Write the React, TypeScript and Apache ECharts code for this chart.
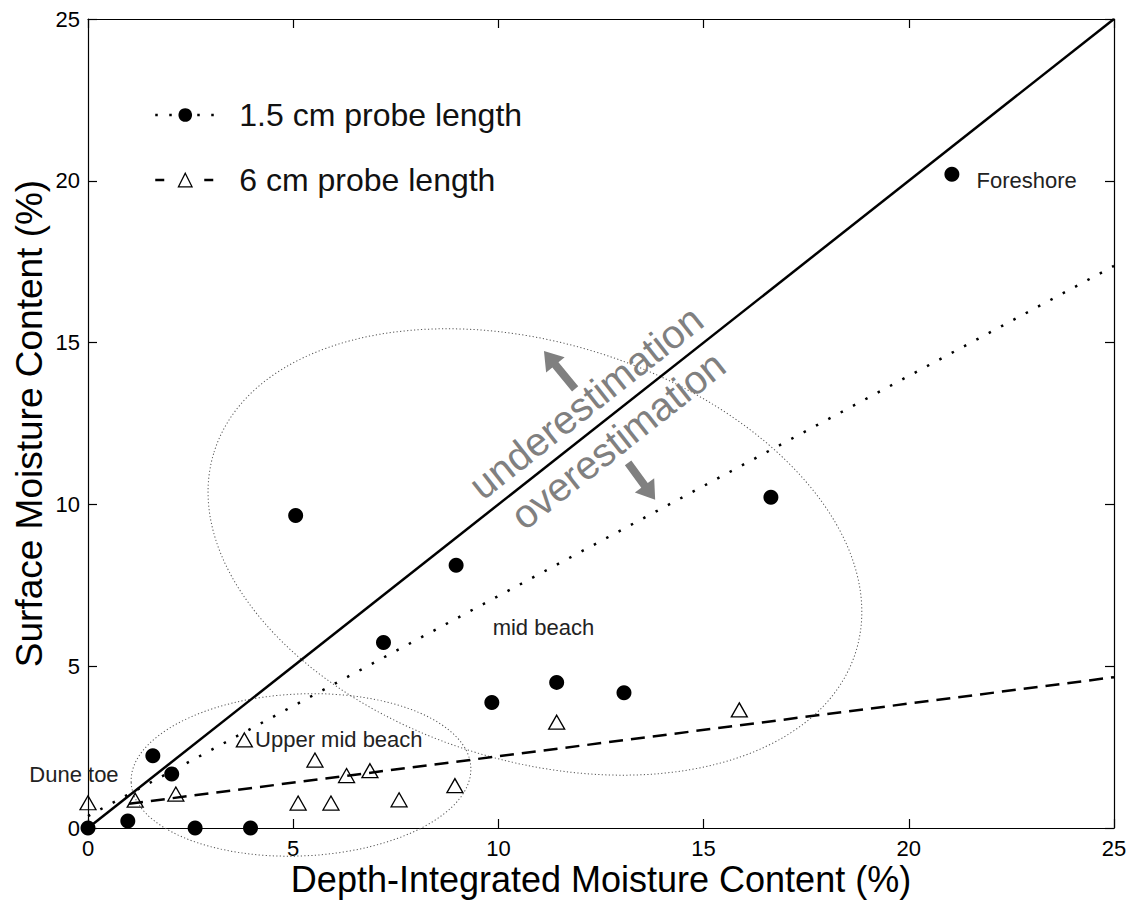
import { useEffect, useRef } from 'react';
import * as echarts from 'echarts';

const FONT = '"Liberation Sans", Arial, Helvetica, sans-serif';

// 1.5 cm probe: depth-integrated vs surface moisture content (%)
const fineProbeDepth = [0, 0.97, 1.58, 2.04, 2.61, 3.96, 5.06, 7.2, 8.97, 9.84, 11.42, 13.06, 16.64, 21.05];
const fineProbeSurface = [0, 0.22, 2.23, 1.67, 0, 0, 9.66, 5.73, 8.12, 3.88, 4.5, 4.18, 10.22, 20.2];

// 6 cm probe: depth-integrated vs surface moisture content (%)
const coarseProbeDepth = [0, 1.15, 2.14, 3.81, 5.12, 5.53, 5.92, 6.3, 6.87, 7.58, 8.94, 11.42, 15.87];
const coarseProbeSurface = [0.78, 0.86, 1.05, 2.72, 0.77, 2.1, 0.77, 1.62, 1.77, 0.87, 1.31, 3.27, 3.65];

// Regression lines (end points)
const fineFitDepth = [0, 25];
const fineFitSurface = [0.37, 17.37];
const coarseFitDepth = [1, 25];
const coarseFitSurface = [0.75, 4.66];

// 1:1 reference line
const parityDepth = [0, 25];
const paritySurface = [0, 25];

// Axis range
const axisMin = 0;
const axisMax = 25;
const axisStep = 5;

// Beach zone labels, anchored at their left edge
const zoneNames = ['Foreshore', 'mid beach', 'Upper mid beach', 'Dune toe'];
const zoneDepth = [21.65, 9.86, 4.07, -1.43];
const zoneSurface = [20.02, 6.21, 2.72, 1.64];

const seriesNames = ['1.5 cm probe length', '6 cm probe length'];

const pairs = (xs: number[], ys: number[]) => xs.map((x, i) => [x, ys[i]]);

// Dotted outlines around the beach zones (centre in data units, radii in px, tilt in degrees)
const zoneOutlines = [
  { cx: 10.89, cy: 8.53, rx: 336, ry: 209, tilt: -17.3 },
  { cx: 5.19, cy: 1.64, rx: 170, ry: 81, tilt: 2.5 },
];

// Arrows either side of the 1:1 line (tail -> tip, data units)
const arrows = [
  { tail: [11.87, 13.57], tip: [11.11, 14.74] },
  { tail: [13.16, 11.28], tip: [13.82, 10.14] },
];

const arrowPoints = (tail: number[], tip: number[]) => {
  const dx = tip[0] - tail[0];
  const dy = tip[1] - tail[1];
  const len = Math.hypot(dx, dy);
  const ux = dx / len;
  const uy = dy / len;
  const nx = -uy;
  const ny = ux;
  const headLen = 18;
  const headHalf = 12;
  const shaftHalf = 4;
  const nk = [tip[0] - ux * headLen, tip[1] - uy * headLen];
  return [
    [tail[0] + nx * shaftHalf, tail[1] + ny * shaftHalf],
    [nk[0] + nx * shaftHalf, nk[1] + ny * shaftHalf],
    [nk[0] + nx * headHalf, nk[1] + ny * headHalf],
    [tip[0], tip[1]],
    [nk[0] - nx * headHalf, nk[1] - ny * headHalf],
    [nk[0] - nx * shaftHalf, nk[1] - ny * shaftHalf],
    [tail[0] - nx * shaftHalf, tail[1] - ny * shaftHalf],
  ];
};

const makeAxis = (extra: Record<string, unknown>) => ({
  type: 'value',
  min: axisMin,
  max: axisMax,
  interval: axisStep,
  axisLine: { show: true, onZero: false, lineStyle: { color: '#000', width: 1.2 } },
  axisTick: { show: true, inside: true, length: 9, lineStyle: { color: '#000', width: 1.2 } },
  splitLine: { show: false },
  axisLabel: { show: true, color: '#000', fontSize: 22, fontFamily: FONT, margin: 9 },
  ...extra,
});

export default function App() {
  const ref = useRef<HTMLDivElement>(null);

  useEffect(() => {
    if (!ref.current) return;
    const chart = echarts.init(ref.current, null, { renderer: 'svg' });

    chart.setOption({
      animation: false,
      backgroundColor: '#fff',
      grid: {
        left: 88,
        right: 16,
        top: 19,
        bottom: 72,
        containLabel: false,
        outerBoundsMode: 'none',
      },
      xAxis: [
        makeAxis({
          position: 'bottom',
          name: 'Depth-Integrated Moisture Content (%)',
          nameLocation: 'middle',
          nameGap: 33,
          nameMoveOverlap: false,
          nameTextStyle: { fontSize: 36, fontFamily: FONT, color: '#000' },
        }),
        makeAxis({ position: 'top', axisLabel: { show: false } }),
      ],
      yAxis: [
        makeAxis({
          position: 'left',
          axisLabel: { show: true, color: '#000', fontSize: 22, fontFamily: FONT, margin: 8 },
          name: 'Surface Moisture Content (%)',
          nameLocation: 'middle',
          nameGap: 40,
          nameMoveOverlap: false,
          nameTextStyle: { fontSize: 37, fontFamily: FONT, color: '#000' },
        }),
        makeAxis({ position: 'right', axisLabel: { show: false } }),
      ],
      legend: {
        orient: 'vertical',
        left: 154,
        top: 99,
        padding: 0,
        itemWidth: 60,
        itemHeight: 17,
        itemGap: 33,
        selectedMode: false,
        textStyle: { fontSize: 32, fontFamily: FONT, color: '#111', padding: [0, 0, 0, 19], lineHeight: 32 },
        data: [
          {
            name: seriesNames[0],
            itemStyle: { color: '#000', borderWidth: 0 },
            lineStyle: { color: '#000', width: 2.5, type: [2.5, 11.5] },
          },
          {
            name: seriesNames[1],
            itemStyle: { color: '#fff', borderColor: '#000', borderWidth: 1.3 },
            lineStyle: { color: '#000', width: 2.5, type: [9, 40] },
          },
        ],
      },
      series: [
        {
          type: 'line',
          name: '1:1',
          data: pairs(parityDepth, paritySurface),
          symbol: 'none',
          showSymbol: false,
          silent: true,
          lineStyle: { color: '#000', width: 2.5, type: 'solid' },
          z: 2,
        },
        {
          type: 'line',
          name: seriesNames[0],
          data: pairs(fineFitDepth, fineFitSurface),
          symbol: 'circle',
          symbolSize: 15,
          showSymbol: false,
          silent: true,
          itemStyle: { color: '#000' },
          lineStyle: { color: '#000', width: 2.5, type: [2.5, 11.5] },
          z: 2,
        },
        {
          type: 'line',
          name: seriesNames[1],
          data: pairs(coarseFitDepth, coarseFitSurface),
          symbol: 'triangle',
          symbolSize: [16, 14],
          showSymbol: false,
          silent: true,
          itemStyle: { color: '#fff', borderColor: '#000', borderWidth: 1.3 },
          lineStyle: { color: '#000', width: 2.5, type: [14, 8] },
          z: 2,
        },
        {
          type: 'scatter',
          name: seriesNames[0],
          data: pairs(fineProbeDepth, fineProbeSurface),
          symbol: 'circle',
          symbolSize: 15,
          itemStyle: { color: '#000', opacity: 1 },
          z: 4,
        },
        {
          type: 'scatter',
          name: seriesNames[1],
          data: pairs(coarseProbeDepth, coarseProbeSurface),
          symbol: 'triangle',
          symbolSize: [16, 14],
          itemStyle: { color: 'rgba(0,0,0,0)', borderColor: '#000', borderWidth: 1.3, opacity: 1 },
          z: 4,
        },
      ],
    });

    // Annotations placed through the chart's own coordinate mapping
    const toPx = (x: number, y: number) =>
      chart.convertToPixel({ seriesIndex: 0 }, [x, y]) as unknown as number[];

    const lineAngle = (() => {
      const a = toPx(parityDepth[0], paritySurface[0]);
      const b = toPx(parityDepth[1], paritySurface[1]);
      return Math.atan2(a[1] - b[1], b[0] - a[0]);
    })();

    const graphics: any[] = [];

    zoneOutlines.forEach((o) => {
      const c = toPx(o.cx, o.cy);
      graphics.push({
        type: 'ellipse',
        x: c[0],
        y: c[1],
        rotation: (o.tilt * Math.PI) / 180,
        shape: { cx: 0, cy: 0, rx: o.rx, ry: o.ry },
        style: { fill: 'none', stroke: '#555', lineWidth: 1, lineDash: [1.2, 2.3] },
        silent: true,
        z: 1,
      });
    });

    const sideLabels = [
      { text: 'underestimation', at: [12.13, 13.16] },
      { text: 'overestimation', at: [12.91, 11.99] },
    ];
    sideLabels.forEach((s) => {
      const p = toPx(s.at[0], s.at[1]);
      graphics.push({
        type: 'text',
        x: p[0],
        y: p[1],
        rotation: lineAngle,
        silent: true,
        z: 5,
        style: {
          text: s.text,
          fontSize: 40,
          fontFamily: FONT,
          fill: '#808080',
          align: 'center',
          verticalAlign: 'middle',
          textAlign: 'center',
          textVerticalAlign: 'middle',
        },
      });
    });

    arrows.forEach((a) => {
      const tail = toPx(a.tail[0], a.tail[1]);
      const tip = toPx(a.tip[0], a.tip[1]);
      graphics.push({
        type: 'polygon',
        shape: { points: arrowPoints(tail, tip) },
        style: { fill: '#808080', stroke: 'none' },
        silent: true,
        z: 5,
      });
    });

    zoneNames.forEach((name, i) => {
      const p = toPx(zoneDepth[i], zoneSurface[i]);
      graphics.push({
        type: 'text',
        x: p[0],
        y: p[1],
        silent: true,
        z: 5,
        style: {
          text: name,
          fontSize: 22,
          fontFamily: FONT,
          fill: '#222',
          align: 'left',
          verticalAlign: 'middle',
          textAlign: 'left',
          textVerticalAlign: 'middle',
        },
      });
    });

    chart.setOption({ graphic: graphics });

    return () => chart.dispose();
  }, []);

  return (
    <div
      ref={ref}
      style={{ position: 'absolute', left: 0, top: 0, width: 1130, height: 900, background: '#fff' }}
    />
  );
}
